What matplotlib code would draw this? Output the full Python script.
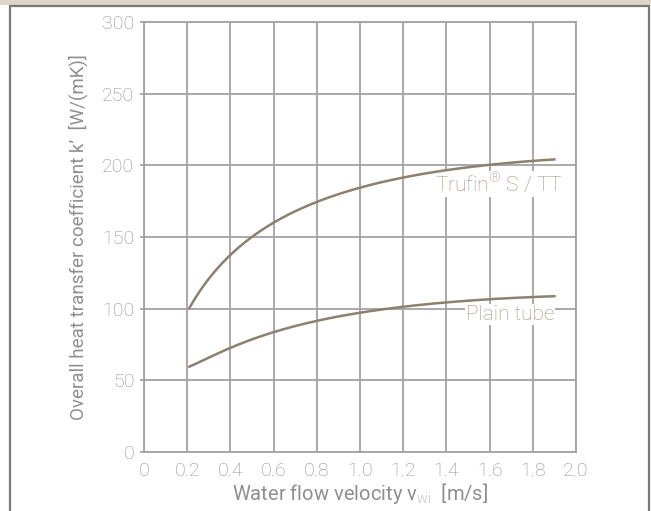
import numpy as np
import matplotlib
matplotlib.use("Agg")
import matplotlib.pyplot as plt
from matplotlib.patches import Rectangle

# data
velocity = [0.21, 0.3, 0.4, 0.5, 0.6, 0.8, 1.0, 1.2, 1.4, 1.6, 1.8, 1.9]
k_trufin = [100, 122, 137, 150, 160, 174, 184, 192, 197, 201, 203, 203.5]
k_plain = [59, 67, 73, 78, 83, 91, 97, 102, 105, 107, 108, 108]

x_ticks = [0, 0.2, 0.4, 0.6, 0.8, 1.0, 1.2, 1.4, 1.6, 1.8, 2.0]
x_labels = ["0", "0.2", "0.4", "0.6", "0.8", "1.0", "1.2", "1.4", "1.6", "1.8", "2.0"]
y_ticks = [0, 50, 100, 150, 200, 250, 300]

line_col = "#8c806e"
label_col = "#9e9383"
tick_col = "#8f8f8f"
grid_col = "#a3a3a3"

plt.rcParams["font.family"] = ["Roboto", "DejaVu Sans"]
plt.rcParams["font.weight"] = "light"
plt.rcParams["mathtext.fontset"] = "custom"
plt.rcParams["mathtext.rm"] = "Roboto:light"

fig = plt.figure(figsize=(6.51, 5.11), dpi=100)

# beige strip and frame
fig.add_artist(Rectangle((0, 1 - 5 / 511), 1, 5 / 511, transform=fig.transFigure,
                         facecolor="#ddd5c8", edgecolor="none"))
fig.add_artist(Rectangle((10 / 651, -0.05), 638.5 / 651, 1.05 - 6 / 511, transform=fig.transFigure,
                         facecolor="none", edgecolor="#7a7a7a", linewidth=1.6))

ax = fig.add_axes([144 / 651, 1 - 452 / 511, 432 / 651, 430 / 511])

# smooth curves through the read points
xs = np.linspace(velocity[0], velocity[-1], 200)
tr = np.polyval(np.polyfit(np.log(velocity), k_trufin, 3), np.log(xs))
pl = np.polyval(np.polyfit(np.log(velocity), k_plain, 3), np.log(xs))
ax.plot(xs, tr, color=line_col, lw=1.8, zorder=3)
ax.plot(xs, pl, color=line_col, lw=1.8, zorder=3)

ax.set_xlim(0, 2.0)
ax.set_ylim(0, 300)
ax.set_xticks(x_ticks)
ax.set_xticklabels(x_labels)
ax.set_yticks(y_ticks)
ax.grid(True, color=grid_col, lw=1.3)
ax.set_axisbelow(True)
for s in ax.spines.values():
    s.set_color(grid_col)
    s.set_linewidth(1.3)
ax.tick_params(axis="x", length=0, pad=7, labelsize=14, labelcolor=tick_col)
ax.tick_params(axis="y", length=3, width=1.3, color=grid_col, pad=4, labelsize=14, labelcolor=tick_col)

ax.set_xlabel(r"Water flow velocity v$_{\mathrm{wi}}$  [m/s]", fontsize=14.5, color=tick_col, labelpad=1)
ax.set_ylabel("Overall heat transfer coefficient k\u2019  [W/(mK)]", fontsize=13.5, color=tick_col, labelpad=10)

# labels sit on a white patch that hides the grid, under the curves
bbox = dict(facecolor="white", edgecolor="none", pad=0.5)
ax.text(1.94, 187, "Trufin$^{\u00ae}$ S / TT", ha="right", va="center", fontsize=15,
        color=label_col, bbox=bbox, zorder=2.5)
ax.text(1.90, 96, "Plain tube", ha="right", va="center", fontsize=15,
        color=label_col, bbox=bbox, zorder=2.5)

fig.savefig("out.png", dpi=100)
